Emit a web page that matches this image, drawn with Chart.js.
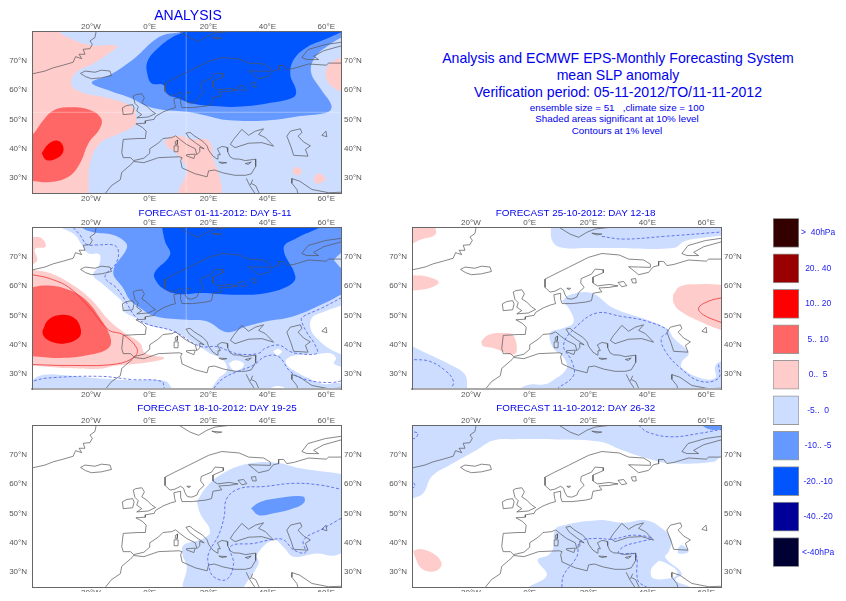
<!DOCTYPE html>
<html>
<head>
<meta charset="utf-8">
<title>mean SLP anomaly</title>
<script src="https://cdn.jsdelivr.net/npm/chart.js@4/dist/chart.umd.min.js"></script>
<style>
  body { margin: 0; background: #fff; width: 846px; height: 601px; overflow: hidden; position: relative; font-family: "Liberation Sans", sans-serif; }
  canvas { position: absolute; }
  .txt { position: absolute; transform: translate(-50%, -50%); white-space: pre; color: #0000ee; }
</style>
</head>
<body>
<script>
// tick positions and labels
const lonTicks = [-20, 0, 20, 40, 60];
const lonTickLabels = ['20°W', '0°E', '20°E', '40°E', '60°E'];
const latTicks = [30, 40, 50, 60, 70];
const latTickLabels = ['30°N', '40°N', '50°N', '60°N', '70°N'];

// legend
const legendLabels = ['>  40hPa', '20.. 40', '10.. 20', '5.. 10', '0..  5', '-5..  0', '-10.. -5', '-20..-10', '-40..-20', '<-40hPa'];
const legendColors = ['#330000', '#990000', '#ff0000', '#ff6666', '#ffcccc', '#ccddff', '#6699ff', '#0055ff', '#000099', '#000033'];
const legendValues = [1, 1, 1, 1, 1, 1, 1, 1, 1, 1];

// coastlines, [lon, lat]
const coastMain = [[66,69.1],[60.8,69.1],[60,68.4],[54,68.8],[49,67.3],[46.6,66.9],[45.5,68.3],[43.8,68.3],[43.8,66.9],[42,66.5],[40.4,64.6],[37,63.8],[35.3,65.2],[33.6,66.5],[37,66.4],[41,66.3],[41,67.4],[38.7,68.8],[33.6,69.1],[30.4,70.5],[24.5,71],[20,69.7],[13.2,66.3],[8.5,64],[5.2,62.3],[5.2,59.5],[6.9,57.9],[8.5,58.2],[10.5,59.2],[11.5,58.5],[12,57],[12.8,55.7],[14.3,55.5],[16,56.2],[16.7,57.8],[18.5,59.5],[17.3,61],[17.5,62.5],[21,64],[22.2,65.7],[25,65.5],[25,64.5],[21.5,63],[21.5,61],[23,60],[27,60.5],[30,60],[27,59.5],[23.5,59.3],[24.5,58],[21.5,57.5],[21,55],[19,54.5],[14.5,54],[11,54],[10.5,55.5],[10.5,57.5],[8.2,57],[8.5,55],[8.8,54],[7,53.5],[4.5,52.5],[2,51],[1.5,50],[-1.5,49.5],[-1.5,48.7],[-4.7,48.5],[-2.5,47.3],[-1.2,46],[-1.5,43.5],[-4,43.5],[-9,43.2],[-9.5,38.7],[-9,37],[-6.5,37],[-5.5,36],[-2,36.8],[0,38.5],[0,40],[3,42],[4.5,43.5],[7.5,43.8],[8.8,44.4],[10.5,43],[12.5,41.5],[15.5,40],[16,38],[17,39],[17,40.5],[18.5,40],[16,41.7],[13.5,43.6],[12.3,45.3],[13.7,45.6],[15,44.5],[18,42.6],[19.5,41],[20,39.5],[21.5,37.5],[23,36.5],[23.2,38],[24,38],[23,40],[24.5,40.8],[26.3,40.5],[26.5,39],[27.3,37.3],[28.5,36.6],[30.5,36.5],[32.5,36],[36,36.5],[36,34],[34.5,31.5],[32.5,31],[29,31],[25,31.8],[22,32.8],[20,32.5],[19.5,30.5],[15.5,31.5],[11,33.5],[10.5,36],[11,37],[10,37.3],[3,37],[-2,35.3],[-5.5,35.7],[-6,35],[-9.5,32],[-10,29.5],[-13,27.5],[-15,25],[-15.5,24]];
const coastGreenland = [[-41,65.2],[-35.6,66.4],[-32.8,67.5],[-29.4,68.4],[-26,69.4],[-25.2,71.3],[-23.1,70.6],[-24,72.1],[-22,72.1],[-22.6,73.8],[-20.3,74],[-19.5,75.5],[-20.3,76.6],[-18.6,77.8],[-18,81]];
const coastIceland = [[-23.5,65.6],[-22,66.4],[-18.6,66],[-16.4,66.7],[-13.5,66.4],[-13,64.9],[-16.4,64.1],[-19.8,63.8],[-21.8,64.5],[-23.5,65.6]];
const coastIreland = [[-9.3,53.9],[-7.8,54.7],[-5.8,55],[-5.3,53.9],[-5.8,51.9],[-9,51.6],[-9.3,53.9]];
const coastBritain = [[-5.6,57.9],[-4.7,58.4],[-2.7,58.7],[-1.8,57.3],[-2.7,55.6],[-1,54.5],[0.7,52.8],[2,52],[-0.5,50.8],[-4.4,50.5],[-2.7,51.6],[-4.4,52.8],[-3.9,54.3],[-5,55.4],[-5.6,57.9]];
const coastBlackSea = [[27.4,41.5],[28.5,43.2],[31.3,46.6],[33.6,44.6],[35.9,46],[38.7,46.8],[37,44.9],[39.3,43.8],[42.1,40.9],[38.1,42.1],[33.6,41.9],[29,40.4],[27.4,41.5]];
const coastCaspian = [[46.6,44.3],[47.8,46],[51.2,46.8],[51.7,45.5],[50.4,44.3],[52.3,42.3],[54.6,41],[52.9,39.8],[53.8,37.5],[48.9,37.8],[48.1,40.4],[46.6,44.3]];
const coastAral = [[58.5,44.6],[59.9,46],[60.2,44.1],[58.5,44.6]];
const coastSicily = [[12.5,38],[15.5,38.2],[15,36.7],[12.5,37.6],[12.5,38]];
const coastSardinia = [[8.3,41],[9.7,41],[9.6,39],[8.5,39],[8.3,41]];
const coastCorsica = [[8.7,42.5],[9.5,43],[9.4,41.5],[8.8,41.5],[8.7,42.5]];
const coastCrete = [[23.5,35.5],[26.2,35.3],[24.5,35],[23.5,35.5]];
const coastCyprus = [[32.5,35],[34.5,35.5],[33.5,34.7],[32.5,35]];
const coastLadoga = [[30,61.2],[31.9,61.5],[33,60.1],[31.3,59.7],[30,61.2]];
const coastOnega = [[34.5,62.3],[36,62.5],[36.2,61],[35,61],[34.5,62.3]];
const coastVanern = [[12.6,59.2],[13.9,59.2],[13.4,58.7],[12.6,59.2]];
const coastSvalbard = [[10.3,81],[10.3,79.7],[13.7,77.6],[16.6,76.5],[19.4,78.2],[22.2,79.3],[27.3,79.9],[28,81]];
const coastSvalbardIsle = [[21.1,77.9],[24.5,77.6],[22.8,77.3],[21.1,77.9]];
const coastNovaya = [[51.7,71],[53.8,73.7],[59.7,75.4],[66,76.3],[66,75.2],[59.1,73.3],[55.7,71.4],[57.4,70.3],[53.4,70.3],[51.7,71]];
const coastSuezA = [[32.8,30],[34,27.5],[36,24.5]];
const coastSuezB = [[34.2,27.7],[35,29.5]];
const coastSuezC = [[34.6,28.2],[36,27.5],[37.4,24.5]];
const coastGulfA = [[48.3,29.9],[48.3,28.3],[50,26.2],[50.6,24]];
const coastGulfB = [[48.3,29.9],[51,29],[55.1,26.2],[60.8,25.1],[66,25.3]];
const coastlines = [coastMain, coastGreenland, coastIceland, coastIreland, coastBritain, coastBlackSea, coastCaspian, coastAral, coastSicily, coastSardinia, coastCorsica, coastCrete, coastCyprus, coastLadoga, coastOnega, coastVanern, coastSvalbard, coastSvalbardIsle, coastNovaya, coastSuezA, coastSuezB, coastSuezC, coastGulfA, coastGulfB];

const wholeMap = [[-42,23],[67,23],[67,82],[-42,82],[-42,23]];
const seamLon = [[12.4,24],[12.4,81]];
const seamLat = [[-41,52.4],[66,52.4]];

// ANALYSIS areas
const anPink = [[-41,81],[-33,81],[-28.8,78.3],[-20.3,75.2],[-11.2,74.9],[-14.6,71.9],[-19.1,69],[-24.8,66.2],[-26.7,62.2],[-23.7,59.4],[-13.5,57.1],[-6.1,54.3],[-4.6,50.9],[-5,48.1],[-10.1,45.3],[-16.9,41.9],[-20.3,35.1],[-20.8,24.9],[-21,24],[-41,24],[-41,81]];
const anPinkItaly = [[5,42.4],[7.5,44.3],[10.9,44.3],[14.3,43.2],[19.4,43.2],[21.1,40.7],[21.7,36.2],[23.4,31.7],[23.7,24.6],[10.3,24.6],[12,30.5],[12.6,33.4],[10.9,36.2],[8.6,39],[5.8,40.7],[5,42.4]];
const anPinkEast = [[66,71.2],[65,71.1],[60.8,68.5],[59.7,65.1],[61.4,61.7],[65,59.4],[66,59],[66,71.2]];
const anPinkOvalA = [[48.5,32.8],[50,33.9],[51.7,32.5],[50.6,31.1],[48.9,31.5],[48.5,32.8]];
const anPinkOvalB = [[55.7,30],[57.4,31.7],[59.7,30],[58,28.3],[56.3,28.5],[55.7,30]];
const anSalmon = [[-41,45.5],[-40,44.7],[-36.1,49.8],[-32.7,53],[-27.6,54.1],[-20.3,53.2],[-16.5,50.3],[-16.9,47],[-20.8,41.9],[-23.7,35.1],[-27.6,30.5],[-33.9,28.7],[-40,29.1],[-41,29],[-41,45.5]];
const anRed = [[-36.7,38.5],[-34.4,41.6],[-31.6,42.8],[-29.6,41.3],[-29.6,38.5],[-32.2,36.5],[-35.2,36.2],[-36.7,38.5]];
const anMid = [[12,81],[10.9,79.8],[4.7,78.6],[1,76.4],[-3.3,72.4],[-6.7,69.6],[-13.5,65.1],[-19.7,62.5],[-13.5,59.7],[-6.1,57.1],[-1,54.5],[4.7,53.2],[12.6,52.6],[18.3,51.5],[26.2,49.8],[39.8,49.6],[51.2,51.1],[60.8,52.6],[61.7,54.9],[58,60.5],[54.8,66.2],[56.3,71.3],[60.8,75.2],[65,77.7],[66,78],[66,81],[12,81]];
const anDark = [[11.5,81],[12,80],[7.5,77.8],[2.4,73.8],[-0.8,69.6],[-0.8,65.4],[0.7,62.2],[4.7,61.7],[5.8,58.8],[9.8,57.1],[14.3,55.4],[21.7,54.5],[29.6,54.3],[39.8,55.4],[48.9,57.5],[49.7,60],[47.8,65.1],[48.9,70.2],[53.4,74.5],[59.7,77.2],[65,79.5],[66,79.5],[66,81],[11.5,81]];

// FORECAST 01-11 areas
const d5Pale = [[-30,81],[-29.9,79.8],[-25.4,77.3],[-23.1,73.9],[-20.9,71.1],[-17.1,70.7],[-17.2,67.1],[-19.2,63.7],[-16.3,60.9],[-12.4,57.5],[-9,54.1],[-8.9,51.4],[-3.3,48.5],[-1,46.8],[8.1,44.6],[13.7,41.6],[20.5,37.1],[25,34.8],[26.2,31.4],[23.4,28.6],[21.1,25.2],[21,24],[66,24],[66,81],[-30,81]];
const d5HoleEast = [[67,54],[66,53.6],[59.7,51.4],[55.1,49.1],[54.8,45],[57.4,41.6],[60.8,38.8],[64.2,37.1],[66.4,36.5],[67,36],[67,54]];
const d5HoleSouth = [[46.1,34.8],[48.3,36.2],[56.3,36.8],[61.4,37.1],[63.3,35.4],[62.5,33.7],[65,32.6],[67,32.5],[67,27],[63.6,27.1],[59.1,26.7],[53.4,28.9],[48.9,31.4],[46.6,33.1],[46.1,34.8]];
const d5HoleBlobA = [[26.8,33.7],[29,34.8],[31.9,33.7],[31.3,32],[28.5,31.4],[26.8,33.7]];
const d5HoleBlobB = [[41.9,37.7],[43.4,38.6],[44.9,37.7],[43.4,36.5],[41.9,37.7]];
const d5HoleBlobC = [[41,25.2],[43.2,26],[46,25.2],[43,24],[41,25.2]];
const d5PaleStrip = [[-41,27.5],[-36,29.8],[-28,29.6],[-17,28.6],[-6,28],[5,27.8],[7.5,25.3],[8,24],[-41,24],[-41,27.5]];
const d5PinkTop = [[-41,77],[-39.8,76.7],[-36.7,76.2],[-35.4,73.3],[-39,72.5],[-38.2,68.8],[-39.8,67.3],[-41,67],[-41,77]];
const d5Pink = [[-41,65.5],[-40,65.5],[-34,64.4],[-27.2,61],[-20.4,55.9],[-13.5,48],[-8.4,44],[-3.3,40.6],[-1.6,37.2],[5,35.5],[-2.1,33.8],[-11.2,33],[-16.9,31.9],[-28.2,32.1],[-40,33],[-41,33],[-41,65.5]];
const d5Salmon = [[-41,59.4],[-40,59.5],[-36.2,60.1],[-29.4,59.3],[-22.5,55.9],[-16.9,49.1],[-13.3,42.3],[-14,38.9],[-20.3,36.6],[-30.5,35.5],[-40,36.1],[-41,36],[-41,59.4]];
const d5Red = [[-36.5,44.6],[-34.4,48.5],[-29.9,50.2],[-25.4,48.9],[-23.4,45.1],[-24.2,42.3],[-29.3,40.4],[-33.8,41.2],[-36,42.9],[-36.5,44.6]];
const d5Mid = [[-23,81],[-23.1,79.8],[-19.2,78.2],[-12.4,77.3],[-8.4,75],[-7.8,72.8],[-12.4,64.8],[-9,59.2],[-6.7,55.2],[-3.3,52.5],[1.8,49.7],[12.6,48.5],[19.4,48],[26.2,44.3],[33,46.3],[39.8,48],[48.9,49.7],[60.8,54.8],[65,57],[66,57],[66,81],[-23,81]];
const d5Dark = [[4.2,81],[4.2,80],[5.2,75.1],[6.9,70.6],[1.6,64.4],[2.4,61.3],[5.2,58.7],[10.3,57.2],[17.1,57.6],[29.6,57],[39.8,57.6],[47.8,60.4],[49.5,63.2],[45.5,72.9],[50,76.3],[58,80],[58,81],[4.2,81]];
const d5PalePocket = [[62.5,68.9],[65,71.2],[66,71.5],[66,66],[65,66.1],[62.5,68.9]];
const d5ContourRed = [[-41,63.9],[-40,63.8],[-34,62.5],[-27.2,59.3],[-20.4,52.5],[-14,45.1],[-9,43.4],[-4.4,38.9],[-5,36.1],[-11.2,33.5],[-28.2,33],[-40,33.3],[-41,33.3]];
const d5DashA = [[-26,79.8],[-23.7,77.3],[-21.4,74.1],[-18,73.9],[-12.4,73.9],[-10.7,72.2],[-11.4,67.7],[-15.2,63.1],[-11.2,59.2],[-8.4,55.2],[-5,49.7],[-1,47.1],[8.1,44.6],[17.1,39.5],[22.8,39.4],[27.3,37.7],[30.7,36.8],[37,37.1],[39.2,38.8],[43.8,39.9],[47.8,37.7],[50,37.1],[56.8,37.1],[55.9,40.5],[53.5,44],[51.5,48.5],[52.3,49.7],[58.5,52.5],[65,55.9],[66,56.4]];
const d5DashB = [[21.7,25.2],[25,28.6],[30,31],[35.3,33.1],[39.2,36],[43.8,36],[47.8,30.9],[53.4,28.1],[61.4,27.2],[66.4,28]];
const d5DashC = [[-41,27.4],[-40,27.6],[-35,28.7],[-17,29.3],[-6,28.2],[4,27.6],[5,25]];

// FORECAST 25-10 areas
const d12PaleTop = [[7.2,81],[7.2,80],[7.5,75.7],[10.3,73.1],[20,72.9],[28.5,72.9],[48.9,72.9],[53,75.3],[65,77],[66,77],[66,81],[7.2,81]];
const d12PaleMain = [[10.9,54.8],[13.7,57],[21,57.6],[28.4,52.5],[39.8,48.5],[46.6,45.5],[48.9,42.3],[54,37.2],[51.7,34.2],[51.7,32.1],[58,28.7],[63,28.7],[63,32.7],[65,34.4],[66,34],[66,24],[-3,24],[-3.3,25.1],[0.1,26.5],[4.7,26.5],[7.5,27.6],[12.6,32.1],[11.2,36.1],[8,38.9],[6.9,44],[10.9,45.5],[14.9,47.7],[13.2,52.5],[10.9,54.8]];
const d12PaleWest = [[-41,40],[-40,39.5],[-34,36.6],[-27.1,33.3],[-22,29.9],[-21.2,25.3],[-21,24],[-41,24],[-41,40]];
const d12PinkTop = [[-41,81],[-32,81],[-32,80],[-32.1,77.4],[-37.2,75.7],[-40,74.3],[-41,74],[-41,81]];
const d12PinkWest = [[-41,63.6],[-40,63.6],[-35.1,63.2],[-30.9,61.3],[-34,59.3],[-40,58.4],[-41,58.4],[-41,63.6]];
const d12PinkIberia = [[-16.5,41.2],[-14,43.4],[-9,44],[-5.6,43.2],[-4.4,37.8],[-6.1,36.6],[-12.4,38.9],[-15.8,39.5],[-16.5,41.2]];
const d12PinkEast = [[48.7,57],[51.2,59.9],[58,60.6],[65,60.4],[66,60.4],[66,45],[65,45.1],[59.7,47.1],[51.2,51.4],[48.9,54.2],[48.7,57]];
const d12ContourRed = [[66,56],[65,55.9],[60.8,54.8],[57.4,52.5],[59,50.2],[65,47.6],[66,47.3]];
const d12DashTop = [[24.5,76.8],[31.8,75.9],[45.5,76.8],[65,78.3],[66,78.4]];
const d12DashMain = [[9.2,25],[14.9,29.6],[14.3,34.4],[11.5,40],[16,46.3],[22.8,50.8],[30.8,49.7],[39.8,48],[47.2,44.6],[44.7,42.3],[46.1,37.8],[51.2,32.1],[58,27.6],[64.2,28.7],[64.2,33.3]];
const d12DashWest = [[-41,35],[-40,35],[-34,34.4],[-28.4,31],[-25.9,27.6],[-26.7,25]];

// FORECAST 18-10 areas
const d19Pale = [[16,54],[19.4,59.1],[24.5,63.4],[33,66.8],[43.2,67.2],[51.2,65.3],[65,63.4],[66,63],[66,38],[63,35.7],[56.8,36.4],[48.9,35.3],[45.5,38.5],[42.1,41],[36.4,35.9],[37,33],[31.9,24.9],[31.8,24],[12,24],[12.6,31.9],[11.2,35.9],[11.5,39.2],[17.1,41],[20.5,43.8],[17.1,50],[16,54]];
const d19Mid = [[34.4,51.7],[37,53.6],[43.2,55.1],[52.1,55.7],[52.5,53.7],[48.9,51.7],[42.1,50],[37,49.4],[34.4,51.7]];
const d19Dash = [[66,58.1],[65,58.2],[58,59.6],[49,60.2],[38.8,59.1],[30.8,58.5],[26.2,55.1],[25.3,48.9],[23.4,42.6],[20,36.4],[20,32.5],[21.7,28.5],[26.2,27.6],[28.5,33],[27.4,38.7],[35.4,39.8],[42.1,41.2],[45.5,41],[48.9,37.6],[52.9,36.7],[52.3,41],[59.1,44.9],[65,48.3],[66,48.8]];

// FORECAST 11-10 areas
const d26PaleNorth = [[-41,81],[66,81],[66,69],[65,69.2],[62.5,67.5],[47.8,67],[39.8,68.7],[30.8,71.7],[24,74.3],[10.3,75.1],[-5.5,75.2],[-12.4,74.7],[-18,71.5],[-27.1,66.4],[-33.3,62.5],[-36.2,56.8],[-40,54.9],[-41,54.5],[-41,81]];
const d26MidTop = [[58,81],[58.4,80],[61.3,78.5],[65,78.3],[66,78],[66,81],[58,81]];
const d26PaleSouth = [[8.1,43.2],[9.8,45.5],[23.4,47.7],[31.4,46.8],[39.4,47.7],[45,44.9],[48.2,41],[47.2,37],[46,35.1],[51.7,29.6],[49.5,27.4],[54.6,24.9],[55,24],[-0.5,24],[-0.4,24.9],[5.8,29],[2.7,34.2],[6.4,35.9],[8.1,38.7],[8.1,43.2]];
const d26Hole = [[43.8,33.9],[41.2,30.8],[42.1,27.9],[48.9,28.3],[50.2,30.2],[46.6,33],[43.8,33.9]];
const d26PalePocket = [[50.3,38.1],[51.7,39.3],[54,37],[50.6,36.4],[50.3,38.1]];
const d26PinkWest = [[-39.6,37.3],[-37.4,37.9],[-32.8,36.4],[-30,33.4],[-30.6,31.3],[-33.4,30.2],[-36.8,31.3],[-39,35.3],[-39.6,37.3]];
const d26DashNorth = [[37,80],[39.8,77.7],[47.8,76],[58,77.2],[65,78.5],[66,78.6]];
const d26DashLoopA = [[-41,77.8],[-40,77.7],[-38,77.2],[-39,75.5],[-41,75.6]];
const d26DashLoopB = [[-41,60.9],[-40,60.9],[-39,59.2],[-41,58.2]];
const d26DashMain = [[10.9,24.9],[11.5,29],[16,35.3],[17.1,40.4],[22.8,41.5],[27.9,41.2],[35.3,42.6],[41.5,41.5],[37.6,40.4],[31.9,38.7],[30.2,36.4],[35.9,35.9],[36.4,29.6],[37,26.8],[39.8,24.9]];

// titles and header text
const panelTitles = ['ANALYSIS', 'FORECAST 01-11-2012: DAY 5-11', 'FORECAST 25-10-2012: DAY 12-18', 'FORECAST 18-10-2012: DAY 19-25', 'FORECAST 11-10-2012: DAY 26-32'];
const headerLines = ['Analysis and ECMWF EPS-Monthly Forecasting System', 'mean SLP anomaly', 'Verification period: 05-11-2012/TO/11-11-2012', 'ensemble size = 51   ,climate size = 100', 'Shaded areas significant at 10% level', 'Contours at 1% level'];

const PALE = '#ccddff', MID = '#6699ff', DARK = '#0055ff', PINK = '#ffcccc', SALMON = '#ff6666', RED = '#ff0000', WHITE = '#ffffff';

function pts(arr) {
  return arr.map(p => ({ x: p[0], y: p[1] }));
}

function addText(str, x, y, size) {
  const d = document.createElement('div');
  d.className = 'txt';
  d.textContent = str;
  d.style.left = x + 'px';
  d.style.top = y + 'px';
  d.style.fontSize = size + 'px';
  document.body.appendChild(d);
}

function makeMap(box, panel) {
  const cv = document.createElement('canvas');
  cv.width = box.w;
  cv.height = box.h;
  cv.style.left = box.x + 'px';
  cv.style.top = box.y + 'px';
  // the bottom row of labels is cut off in the original
  if (box.cut) cv.style.clipPath = 'inset(0 0 ' + box.cut + 'px 0)';
  document.body.appendChild(cv);

  // bottom of the list is painted first
  let ds = [];
  panel.fills.forEach(f => ds.push({ data: pts(f[1]), showLine: true, fill: 'shape', backgroundColor: f[0], borderWidth: 0, tension: 0.4 }));
  (panel.seams || []).forEach(s => ds.push({ data: pts(s), showLine: true, borderColor: 'rgba(255,255,255,0.35)', borderWidth: 1, tension: 0 }));
  coastlines.forEach(c => ds.push({ data: pts(c), showLine: true, borderColor: '#555', borderWidth: 0.7, tension: 0 }));
  (panel.reds || []).forEach(c => ds.push({ data: pts(c), showLine: true, borderColor: '#ee3333', borderWidth: 0.8, tension: 0.4 }));
  (panel.dashes || []).forEach(c => ds.push({ data: pts(c), showLine: true, borderColor: '#4a5ce8', borderWidth: 0.8, borderDash: [3, 2], tension: 0.4 }));
  ds.reverse();

  const lonAxis = (pos, h, pad) => ({
    type: 'linear', position: pos, min: -40, max: 65,
    afterBuildTicks: s => { s.ticks = lonTicks.map(v => ({ value: v })); },
    afterFit: s => { s.height = h; },
    grid: { display: false, drawTicks: false },
    border: { color: pos == 'bottom' && box.softBottom ? '#aaa' : '#666', width: pos == 'bottom' && box.softBottom ? 2 : 1, z: 1 },
    ticks: { autoSkip: false, maxRotation: 0, padding: pad, color: '#555', font: { size: 8, family: 'Liberation Sans' }, callback: (v, i) => lonTickLabels[i] }
  });
  const latAxis = (pos, w, pad) => ({
    type: 'linear', position: pos, min: 25, max: 80,
    afterBuildTicks: s => { s.ticks = latTicks.map(v => ({ value: v })); },
    afterFit: s => { s.width = w; },
    grid: { display: false, drawTicks: false },
    border: { color: '#666', width: 1, z: 1 },
    ticks: { autoSkip: false, padding: pad, color: '#555', font: { size: 8, family: 'Liberation Sans' }, callback: (v, i) => latTickLabels[i] }
  });

  new Chart(cv, {
    type: 'scatter',
    data: { datasets: ds },
    options: {
      responsive: false,
      animation: false,
      events: [],
      layout: { autoPadding: false, padding: 0 },
      elements: { point: { radius: 0 }, line: { capBezierPoints: false } },
      plugins: { legend: { display: false }, tooltip: { enabled: false } },
      scales: {
        x: lonAxis('bottom', box.h - box.top - box.plotH, 1),
        xTop: lonAxis('top', box.top, -1),
        y: latAxis('left', 32, 5),
        yRight: latAxis('right', box.w - 32 - 309, 3)
      }
    }
  });
}

const panels = [
  { x: 0, y: 16, w: 370, h: 195, top: 15, plotH: 162, seams: [seamLon, seamLat],
    fills: [[PALE, wholeMap], [PINK, anPink], [PINK, anPinkItaly], [PINK, anPinkEast], [PINK, anPinkOvalA], [PINK, anPinkOvalB], [SALMON, anSalmon], [RED, anRed], [MID, anMid], [DARK, anDark]] },
  { x: 0, y: 216, w: 370, h: 189, top: 11, plotH: 162, softBottom: true, seams: [seamLon],
    fills: [[PALE, d5Pale], [WHITE, d5HoleEast], [WHITE, d5HoleSouth], [WHITE, d5HoleBlobA], [WHITE, d5HoleBlobB], [WHITE, d5HoleBlobC], [PALE, d5PaleStrip], [PINK, d5PinkTop], [PINK, d5Pink], [SALMON, d5Salmon], [RED, d5Red], [MID, d5Mid], [DARK, d5Dark], [PALE, d5PalePocket]],
    reds: [d5ContourRed], dashes: [d5DashA, d5DashB, d5DashC] },
  { x: 380, y: 216, w: 370, h: 189, top: 11, plotH: 162, softBottom: true,
    fills: [[PALE, d12PaleTop], [PALE, d12PaleMain], [PALE, d12PaleWest], [PINK, d12PinkTop], [PINK, d12PinkWest], [PINK, d12PinkIberia], [PINK, d12PinkEast]],
    reds: [d12ContourRed], dashes: [d12DashTop, d12DashMain, d12DashWest] },
  { x: 0, y: 414, w: 370, h: 190, top: 11, plotH: 162, cut: 12,
    fills: [[PALE, d19Pale], [MID, d19Mid]], dashes: [d19Dash] },
  { x: 380, y: 414, w: 370, h: 190, top: 11, plotH: 162, cut: 12,
    fills: [[PALE, d26PaleNorth], [MID, d26MidTop], [PALE, d26PaleSouth], [WHITE, d26Hole], [PALE, d26PalePocket], [PINK, d26PinkWest]],
    dashes: [d26DashNorth, d26DashLoopA, d26DashLoopB, d26DashMain] }
];
panels.forEach(p => makeMap(p, p));

// legend
const legCv = document.createElement('canvas');
legCv.width = 66;
legCv.height = 369;
legCv.style.left = '772px';
legCv.style.top = '208px';
document.body.appendChild(legCv);
new Chart(legCv, {
  type: 'bar',
  data: {
    labels: legendLabels,
    datasets: [{ data: legendValues, backgroundColor: legendColors, borderColor: '#999', borderWidth: 1, borderSkipped: false, barThickness: 29 }]
  },
  options: {
    indexAxis: 'y',
    responsive: false,
    animation: false,
    events: [],
    layout: { autoPadding: false, padding: { left: 1 } },
    plugins: { legend: { display: false }, tooltip: { enabled: false } },
    scales: {
      x: { display: false, min: 0, max: 1 },
      y: {
        position: 'right',
        afterFit: s => { s.width = 39; },
        grid: { display: false, drawTicks: false },
        border: { display: false },
        ticks: { padding: 2, crossAlign: 'center', autoSkip: false, color: '#2222ee', font: { size: 8.5, family: 'Liberation Sans' } }
      }
    }
  }
});

// text
addText(panelTitles[0], 188, 15, 14);
addText(panelTitles[1], 215, 212, 9.9);
addText(panelTitles[2], 575.7, 212, 9.9);
addText(panelTitles[3], 217, 407, 9.9);
addText(panelTitles[4], 575.7, 407, 9.9);
addText(headerLines[0], 618, 58, 14.1);
addText(headerLines[1], 618, 75, 14.1);
addText(headerLines[2], 618, 92, 14.1);
addText(headerLines[3], 617, 106.5, 9.8);
addText(headerLines[4], 617, 118, 9.8);
addText(headerLines[5], 617, 129.5, 9.8);
</script>
</body>
</html>
